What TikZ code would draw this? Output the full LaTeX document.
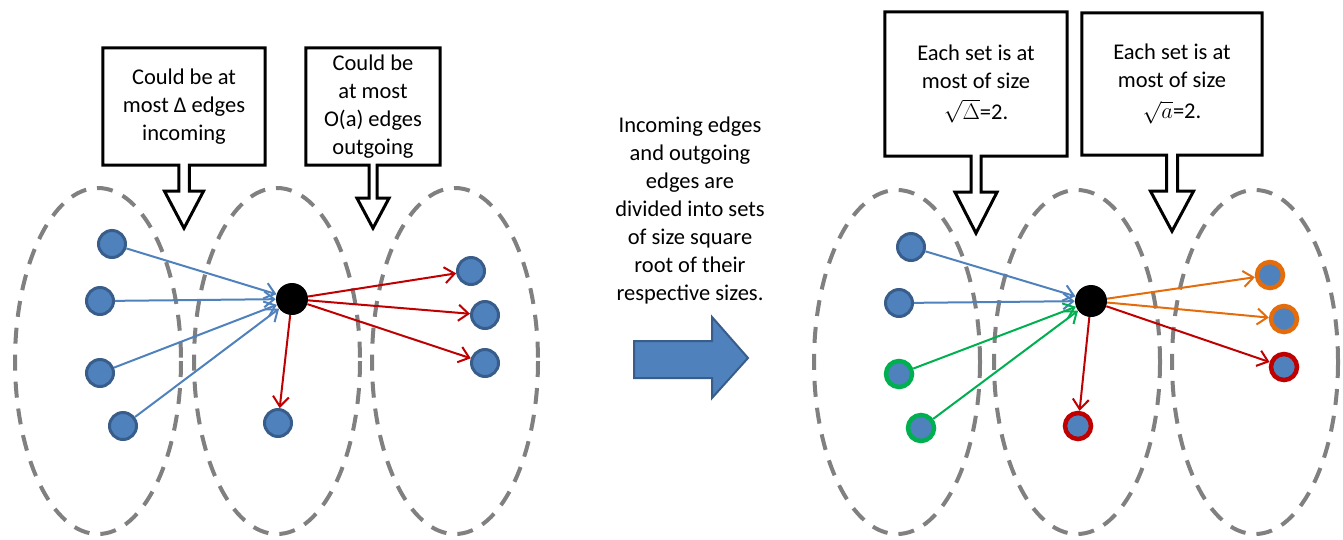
\documentclass[tikz,border=0pt]{standalone}
\usepackage{fix-cm}
\usepackage{fontspec}
\setmainfont{Carlito}
\usetikzlibrary{arrows.meta,calc}

\definecolor{nodeblue}{HTML}{4F81BD}
\definecolor{darkblue}{HTML}{385D8A}
\definecolor{edgered}{HTML}{C00000}
\definecolor{edgegreen}{HTML}{00B050}
\definecolor{edgeorange}{HTML}{E46C0A}
\definecolor{setgray}{HTML}{808080}

% box node, stem half width, stem length, head half width, head height
\newcommand{\callout}[5]{%
  \draw[callline] (#1.south west) -- (#1.north west) -- (#1.north east) -- (#1.south east)
    -- ($(#1.south)+(#2,0)$) -- ++(0,#3) -- ++({#4-#2},0) -- ++({-#4},#5)
    -- ++({-#4},{-#5}) -- ++({#4-#2},0) -- ++(0,{-#3}) -- cycle;}

\begin{document}
\begin{tikzpicture}[x=1pt, y=-1pt,
    vtx/.style = {circle, fill=nodeblue, draw=darkblue, line width=3pt, minimum size=27pt, inner sep=0pt},
    ring/.style = {circle, fill=nodeblue, draw=#1, line width=4.5pt, minimum size=26pt, inner sep=0pt},
    hub/.style = {circle, fill=black, minimum size=32pt, inner sep=0pt},
    setline/.style = {draw=setgray, line width=4pt, dash pattern=on 16pt off 11pt},
    callbox/.style = {align=center, inner sep=0pt, font=\fontsize{22.5}{28}\selectfont},
    callline/.style = {draw=black, line width=3pt, line join=miter},
    arr/.style = {draw=#1, line width=2pt, -{Straight Barb[length=10pt, width=16pt]}}]
    \useasboundingbox (0,0) rectangle (1343,539);

    % left picture
    \draw[setline] (98,361) ellipse [x radius=83, y radius=173];
    \draw[setline] (277,361) ellipse [x radius=83, y radius=173];
    \draw[setline] (455,361) ellipse [x radius=83, y radius=173];

    \node[callbox, minimum width=162pt, minimum height=117pt] (incbox) at (184,106.5) {Could be at\\most Δ edges\\incoming};
    \callout{incbox}{5.25}{26}{19.5}{37}
    \node[callbox, minimum width=134pt, minimum height=117pt] (outbox) at (373,106.5) {Could be\\at most\\O(a) edges\\outgoing};
    \callout{outbox}{4}{33}{16}{30}

    \node[vtx] (a1) at (112,244) {};
    \node[vtx] (a2) at (100,301) {};
    \node[vtx] (a3) at (100,373) {};
    \node[vtx] (a4) at (123,426) {};
    \node[hub] (v) at (292,299) {};
    \node[vtx] (b) at (278,423) {};
    \node[vtx] (c1) at (471,271) {};
    \node[vtx] (c2) at (485,315) {};
    \node[vtx] (c3) at (485,363) {};

    \draw[arr=nodeblue] (a1) -- (v);
    \draw[arr=nodeblue] (a2) -- (v);
    \draw[arr=nodeblue] (a3) -- (v);
    \draw[arr=nodeblue] (a4) -- (v);
    \draw[arr=edgered] (v) -- (b);
    \draw[arr=edgered] (v) -- (c1);
    \draw[arr=edgered] (v) -- (c2);
    \draw[arr=edgered] (v) -- (c3);

    % middle
    \node[callbox] (note) at (690,210) {Incoming edges\\and outgoing\\edges are\\divided into sets\\of size square\\root of their\\respective sizes.};
    \draw[fill=nodeblue, draw=darkblue, line width=2pt, line join=miter]
        (634,341) -- (712,341) -- (712,317) -- (748,358) -- (712,398) -- (712,378) -- (634,378) -- cycle;

    % right picture
    \draw[setline] (897,362) ellipse [x radius=83, y radius=172];
    \draw[setline] (1077,362) ellipse [x radius=83, y radius=172];
    \draw[setline] (1255,362) ellipse [x radius=83, y radius=172];

    \node[callbox, minimum width=182pt, minimum height=144pt] (incset) at (976,84) {Each set is at\\most of size\\[3pt]$\sqrt{\Delta}$=2.};
    \callout{incset}{5}{36}{21}{41}
    \node[callbox, minimum width=180pt, minimum height=142pt] (outset) at (1172,84) {Each set is at\\most of size\\[3pt]$\sqrt{a}$=2.};
    \callout{outset}{5.5}{36}{21.5}{40}

    \node[vtx] (d1) at (911,247) {};
    \node[vtx] (d2) at (899,303) {};
    \node[ring=edgegreen] (d3) at (899,374) {};
    \node[ring=edgegreen] (d4) at (921,428) {};
    \node[hub] (w) at (1091,301) {};
    \node[ring=edgered] (f) at (1078,426) {};
    \node[ring=edgeorange] (e1) at (1270,275) {};
    \node[ring=edgeorange] (e2) at (1284,319) {};
    \node[ring=edgered] (e3) at (1284,367) {};

    \draw[arr=nodeblue] (d1) -- (w);
    \draw[arr=nodeblue] (d2) -- (w);
    \draw[arr=edgegreen] (d3) -- (w);
    \draw[arr=edgegreen] (d4) -- (w);
    \draw[arr=edgered] (w) -- (f);
    \draw[arr=edgeorange] (w) -- (e1);
    \draw[arr=edgeorange] (w) -- (e2);
    \draw[arr=edgered] (w) -- (e3);
\end{tikzpicture}
\end{document}
